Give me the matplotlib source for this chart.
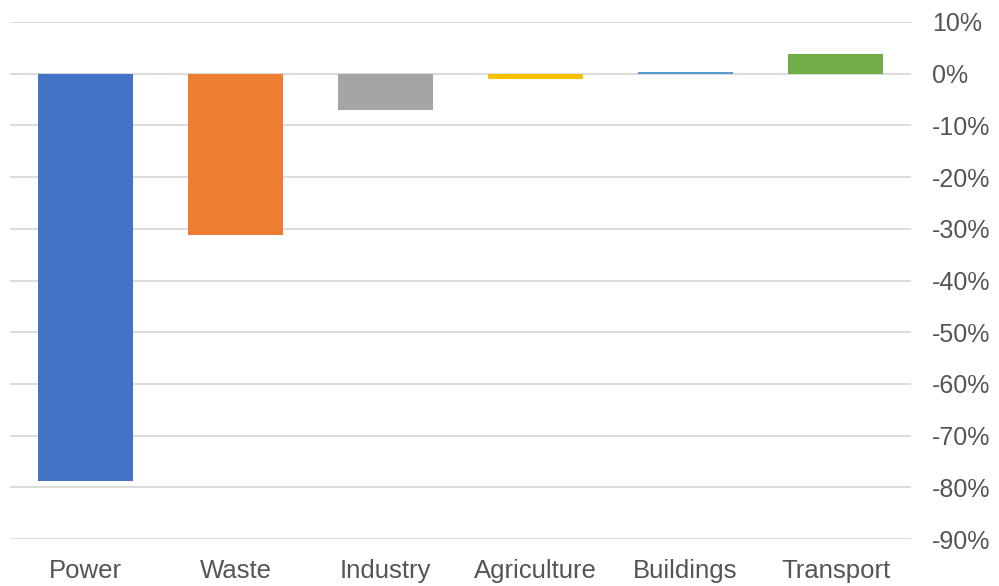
import matplotlib
matplotlib.use('Agg')
import matplotlib.pyplot as plt
import numpy as np
from matplotlib.ticker import FuncFormatter, MultipleLocator

# 各部门排放变化
sectors = ['Power', 'Waste', 'Industry', 'Agriculture', 'Buildings', 'Transport']
changes = [-78.7, -31.2, -7.0, -1.0, 0.4, 3.9]
bar_colors = ['#4472C4', '#ED7D31', '#A5A5A5', '#FFC000', '#5B9BD5', '#70AD47']

plt.rcParams['font.family'] = ['Liberation Sans', 'DejaVu Sans']

fig = plt.figure(figsize=(9.99, 5.86), dpi=100)
ax = fig.add_axes([0.0105, 0.080, 0.901, 0.8825])

x = np.arange(len(sectors))
ax.bar(x, changes, width=0.633, color=bar_colors, zorder=3)

ax.set_xlim(-0.5, len(sectors) - 0.5)
ax.set_ylim(-90, 10)
ax.yaxis.set_major_locator(MultipleLocator(10))
ax.yaxis.set_major_formatter(FuncFormatter(lambda v, _: f'{v:.0f}%'))
ax.yaxis.tick_right()

ax.set_xticks(x)
ax.set_xticklabels(sectors)

ax.grid(axis='y', color='#D9D9D9', linewidth=1.3, zorder=0)
for s in ax.spines.values():
    s.set_visible(False)

ax.tick_params(axis='y', length=0, pad=15.5, labelsize=18, labelcolor='#555555')
ax.tick_params(axis='x', length=0, pad=14, labelsize=18.5, labelcolor='#555555')

fig.savefig('out.png', dpi=100)
